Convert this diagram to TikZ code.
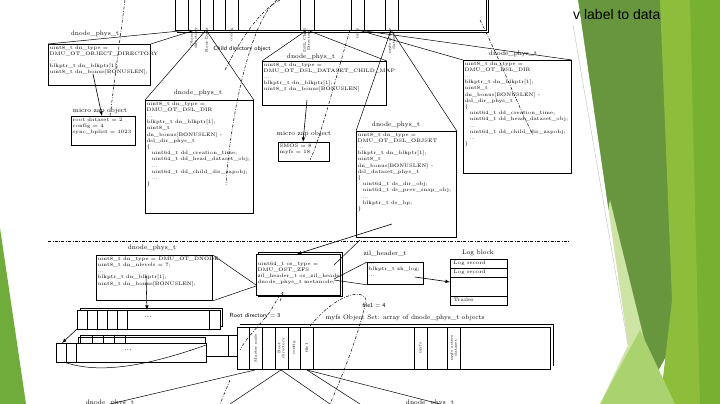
\documentclass[tikz,border=0pt]{standalone}
\usepackage{fontspec}
\newfontfamily\slidefont{Liberation Sans}
\definecolor{gdark}{RGB}{104,150,62}
\definecolor{gmid}{RGB}{140,190,60}
\definecolor{gbright}{RGB}{120,176,50}
\definecolor{gpale}{RGB}{205,228,165}
\definecolor{glight}{RGB}{170,210,110}
\definecolor{gleft}{RGB}{112,172,60}
\begin{document}
\begin{tikzpicture}[x=1pt,y=-1pt,
  box/.style={draw,thick,fill=white,anchor=north west,inner sep=0pt},
  btxt/.style={anchor=north west,align=left,font=\fontsize{5}{6.2}\selectfont,inner sep=1.5pt},
  lbl/.style={font=\fontsize{6.5}{7.5}\selectfont,inner sep=0.5pt},
  slbl/.style={font=\fontsize{6}{7}\sffamily,inner sep=0.5pt},
  col/.style={font=\fontsize{3.8}{4}\selectfont,rotate=90,inner sep=0pt,align=center},
  ln/.style={line width=0.5pt},
  dd/.style={line width=0.5pt,dash pattern=on 3pt off 1.5pt on 0.7pt off 1.5pt},
  arr/.style={line width=0.6pt,-latex}]
\useasboundingbox (0,0) rectangle (720,404);
\fill[white] (0,0) rectangle (720,404);
% green slide decoration
\fill[gdark] (573,0)--(690,0)--(675,340)--(640,404)--(600,404)--cycle;
\fill[gmid] (660,0)--(720,0)--(720,404)--(660,404)--(672,300)--cycle;
\fill[gbright] (690,0)--(720,0)--(720,404)--(700,404)--cycle;
\fill[gpale] (610,200)--(660,404)--(575,404)--cycle;
\fill[glight] (640,330)--(675,404)--(600,404)--cycle;
\fill[gleft] (0,228)--(26,404)--(0,404)--cycle;
\fill[white] (573,0)--(578,0)--(628,345)--(600,404)--(573,404)--cycle;
\draw[gray!60,line width=0.3pt] (573,25)--(628,345);
\node[font=\slidefont\fontsize{14}{16}\selectfont,anchor=west,inner sep=0pt] (title) at (573,14) {v label to data};

% ===== top strip (meta object set) =====
\node[box,minimum width=311pt,minimum height=36pt] (strip) at (175,-6) {};
\draw[ln] (485,-4)--(488,-4)--(488,32)--(177,32);
\foreach \xx in {188,200,213,225,238,300,314,351,364,385,398}{\draw[ln] (\xx,-6)--(\xx,30);}
\node[col,anchor=east] (c1) at (194,28) {Object\\directory};
\node[col,anchor=east] (c2) at (206.5,28) {Root Data};
\node[col,anchor=east] (c3) at (231.5,28) {config};
\node[col,anchor=east] (c4) at (307,28) {DSL Child\\Directory};
\node[col,anchor=east] (c5) at (357.5,28) {myfs};
\node[col,anchor=east] (c6) at (391.5,28) {myfs active\\dataset};

% box 1
\node[lbl] (l1) at (95,34) {dnode\_phys\_t};
\node[box,minimum width=102pt,minimum height=41pt] (b1) at (48,44) {};
\node[btxt] (t1) at (b1.north west) {uint8\_t dn\_type =\\DMU\_OT\_OBJECT\_DIRECTORY\\...\\blkptr\_t dn\_blkptr[1];\\uint8\_t dn\_bonus[BONUSLEN];};
\draw[ln] (190,30)--(b1.north west); \draw[ln] (195,30)--(b1.north east);
% micro zap 1
\node[lbl] (l2) at (100,111) {micro zap object};
\node[box,minimum width=64pt,minimum height=29pt] (z1) at (71,116) {};
\node[btxt] (tz1) at (z1.north west) {root dataset = 2\\config = 4\\sync\_bplist = 1023};
\draw[arr] (93,74)--(102,116);
% box 2
\node[lbl] (l3) at (198,93) {dnode\_phys\_t};
\node[box,minimum width=108pt,minimum height=113pt] (b2) at (145,100) {};
\node[btxt] (t2) at (b2.north west) {uint8\_t dn\_type =\\DMU\_OT\_DSL\_DIR\\...\\blkptr\_t dn\_blkptr[1];\\uint8\_t\\dn\_bonus[BONUSLEN] -\\dsl\_dir\_phys\_t\\\{\\\quad uint64\_t dd\_creation\_time;\\\quad uint64\_t dd\_head\_dataset\_obj;\\\quad ...\\\quad uint64\_t dd\_child\_dir\_zapobj;\\\quad ...\\\}};
\draw[ln] (206,30)--(b2.north west); \draw[ln] (206,30)--(b2.north east);
\node[slbl] (cd) at (242,49) {Child directory object};
% box 3
\node[lbl] (l4) at (311,57) {dnode\_phys\_t};
\node[box,minimum width=124pt,minimum height=44pt] (b3) at (262,61) {};
\node[btxt] (t3) at (b3.north west) {uint8\_t dn\_type =\\DMU\_OT\_DSL\_DATASET\_CHILD\_MAP\\...\\blkptr\_t dn\_blkptr[1];\\uint8\_t dn\_bonus[BONUSLEN]};
\draw[ln] (307,30)--(b3.north west); \draw[ln] (307,30)--(b3.north east);
\node[lbl] (l5) at (304,134) {micro zap object};
\node[box,minimum width=51pt,minimum height=19pt] (z2) at (278,142) {};
\node[btxt] (tz2) at (z2.north west) {SMOS = 8\\myfs = 18};
\draw[arr] (307,100)--(303,142);
% box 4
\node[lbl] (l6) at (396,125) {dnode\_phys\_t};
\node[box,minimum width=100pt,minimum height=106pt] (b4) at (356,131) {};
\node[btxt] (t4) at (b4.north west) {uint8\_t dn\_type =\\DMU\_OT\_DSL\_OBJSET\\...\\blkptr\_t dn\_blkptr[1];\\uint8\_t\\dn\_bonus[BONUSLEN] -\\dsl\_dataset\_phys\_t\\\{\\\quad uint64\_t ds\_dir\_obj;\\\quad uint64\_t ds\_prev\_snap\_obj;\\\quad ...\\\quad blkptr\_t ds\_bp;\\\}};
\draw[ln] (391,30)--(b4.north west); \draw[ln] (391,30)--(b4.north east);
% box 5
\node[lbl] (l7) at (513,54) {dnode\_phys\_t};
\node[box,minimum width=108pt,minimum height=113pt] (b5) at (463,60) {};
\node[btxt] (t5) at (b5.north west) {uint8\_t dn\_type =\\DMU\_OT\_DSL\_DIR\\...\\blkptr\_t dn\_blkptr[1];\\uint8\_t\\dn\_bonus[BONUSLEN] -\\dsl\_dir\_phys\_t\\\{\\\quad uint64\_t dd\_creation\_time;\\\quad uint64\_t dd\_head\_dataset\_obj;\\\quad ...\\\quad uint64\_t dd\_child\_dir\_zapobj;\\\quad ...\\\}};
\draw[ln] (358,30)--(b5.north west); \draw[ln] (358,30)--(b5.north east);

% separator
\coordinate (s1) at (48,241); \coordinate (s2) at (570,241);
\draw[dd] (s1)--(s2);

% ===== bottom =====
\node[lbl] (l8) at (152,248) {dnode\_phys\_t};
\node[box,minimum width=116pt,minimum height=45pt] (b6) at (96,255) {};
\node[btxt] (t6) at (b6.north west) {uint8\_t dn\_type = DMU\_OT\_DNODE\\uint8\_t dn\_nlevels = 7;\\...\\blkptr\_t dn\_blkptr[1];\\uint8\_t dn\_bonus[BONUSLEN];};
\draw[ln] (258,252) rectangle (342,296);
\node[box,minimum width=84pt,minimum height=41pt] (os) at (256,254) {};
\node[btxt] (tos) at ([yshift=-6pt]os.north west) {uint64\_t os\_type =\\DMU\_OST\_ZFS\\zil\_header\_t os\_zil\_header\\dnode\_phys\_t metanode;};
\draw[arr] (392,224)--(297,254);
\draw[ln] (b6.north east)--(256,285); \draw[ln] (b6.south east)--(256,286);
\node[lbl] (l9) at (385,254) {zil\_header\_t};
\node[box,minimum width=56pt,minimum height=22pt] (zh) at (367,262) {};
\node[btxt] (tzh) at (zh.north west) {...\\blkptr\_t zh\_log;\\...};
\draw[ln] (334,279)--(zh.north west); \draw[ln] (334,280)--(zh.south west);
\node[lbl] (l10) at (478,253) {Log block};
\node[box,minimum width=57pt,minimum height=46pt] (lb) at (450,259) {};
\draw[ln] (450,268)--(507,268) (450,277)--(507,277) (450,296)--(507,296);
\node[btxt] (r1) at (452,259) {Log record};
\node[btxt] (r2) at (452,268) {Log record};
\node[btxt] (r3) at (452,296) {Trailer};
\draw[arr] (415,277)--(450,282);
\draw[ln] (360,240)--(334,265);

% block arrays
\draw[ln] (80,308) rectangle (222,326);
\node[box,minimum width=143pt,minimum height=19pt] (a1) at (77,310) {};
\foreach \xx in {87,97,107,117,127,209}{\draw[ln] (\xx,310)--(\xx,329);}
\node[font=\small] (d1) at (148,317) {...};
\draw[arr] (146,276)--(147,310);
\draw[ln] (80,335) rectangle (240,356);
\draw[ln] (78,337) rectangle (205,358);
\foreach \xx in {92,103,114,125}{\draw[ln] (\xx,335)--(\xx,343);}
\draw[ln] (228,335)--(228,356);
\node[box,minimum width=150pt,minimum height=19pt] (a2) at (56,343) {};
\foreach \xx in {66,76}{\draw[ln] (\xx,343)--(\xx,362);}
\node[font=\small] (d2) at (128,350) {...};
\draw[arr] (77,329)--(62,343);
\draw[ln] (64,362) .. controls (100,375) and (150,365) .. (206,345);

% myfs object set
\draw[ln] (240,324)--(553,324)--(553,366);
\node[box,minimum width=313pt,minimum height=42pt] (ms) at (237,327) {};
\foreach \xx in {249,262,275,288,300,313,414,427,447,460}{\draw[ln] (\xx,327)--(\xx,369);}
\node[col] (m1) at (255.5,348) {Master node};
\node[col] (m2) at (281.5,348) {Root\\directory};
\node[col] (m3) at (294,348) {config};
\node[col] (m4) at (306.5,348) {file1};
\node[col] (m5) at (420.5,348) {myfs};
\node[col] (m6) at (453.5,348) {myfs active\\dataset};
\node[slbl] (rd) at (255,316) {Root directory = 3};
\node[slbl] (f1) at (374,305) {file1 = 4};
\node[lbl] (mo) at (405,318) {myfs Object Set: array of dnode\_phys\_t objects};
\draw[ln] (255,370)--(110,404); \draw[ln] (281,370)--(230,404); \draw[ln] (281,370)--(330,404);
\draw[ln] (307,370)--(360,404); \draw[ln] (307,370)--(440,404);
\node[lbl,anchor=north] (bl1) at (110,399) {dnode\_phys\_t};
\node[lbl,anchor=north] (bl2) at (430,399) {dnode\_phys\_t};

% dash-dot references
\draw[dd] (125,0)--(110,116);
\draw[dd] (277,0) .. controls (250,20) and (230,120) .. (226,185);
\draw[dd] (350,30) .. controls (335,80) and (320,140) .. (310,160);
\draw[dd] (280,0) .. controls (260,10) and (240,40) .. (225,70);
\draw[dd] (480,20) .. controls (500,60) and (520,110) .. (533,135);
\draw[dd] (280,301) .. controls (285,290) and (285,285) .. (270,312) .. controls (255,330) and (245,340) .. (240,350);
\draw[dd] (310,326) .. controls (340,290) and (365,290) .. (366,300) .. controls (360,330) and (345,370) .. (330,404);
\draw[dd] (230,380)--(220,404);
\end{tikzpicture}
\end{document}
